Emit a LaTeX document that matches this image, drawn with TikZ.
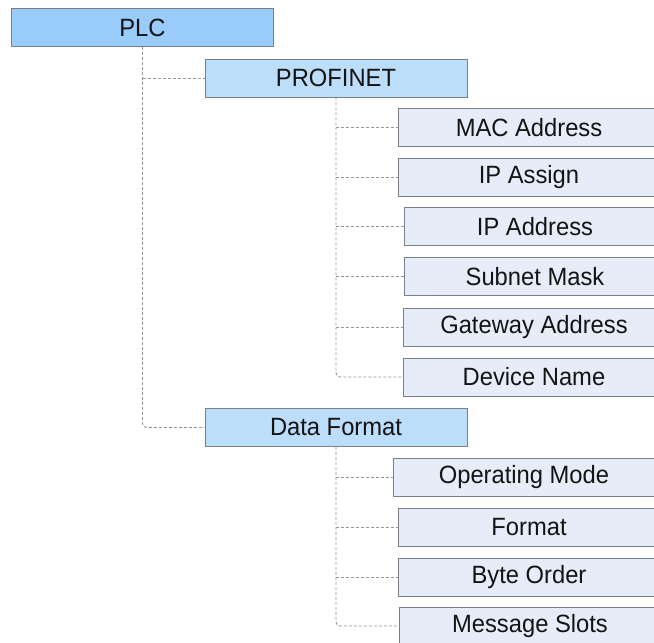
\documentclass[tikz,border=0pt]{standalone}
\usepackage{fontspec}
\setmainfont{Liberation Sans}
\newfontfamily\boxfont[FakeStretch=0.95]{Liberation Sans}
\definecolor{plcblue}{RGB}{153,204,250}
\definecolor{midblue}{RGB}{189,222,250}
\definecolor{leafblue}{RGB}{230,237,249}
\definecolor{boxline}{RGB}{120,128,138}
\definecolor{connline}{RGB}{150,150,150}
\definecolor{txt}{RGB}{20,20,20}
\begin{document}
\begin{tikzpicture}[x=1pt,y=-1pt,
  box/.style={draw=boxline, line width=0.9pt, minimum width=262pt, minimum height=38pt,
    inner sep=0pt, font=\boxfont\fontsize{25}{27}\selectfont, text=txt},
  topbox/.style={box, fill=plcblue},
  midbox/.style={box, fill=midblue},
  leafbox/.style={box, fill=leafblue},
  conn/.style={draw=connline, line width=0.9pt, dash pattern=on 3pt off 2pt, rounded corners=4pt}]
\useasboundingbox (0,0) rectangle (654,643);
\clip (0,0) rectangle (654,643);
\fill[white] (0,0) rectangle (654,643);

\node[topbox] (plc) at (142.5,27.5) {PLC};
\node[midbox] (profinet) at (336,78) {PROFINET};
\node[midbox] (dataformat) at (336,427.5) {Data Format};

\node[leafbox] (mac) at (529,127.5) {MAC Address};
\node[leafbox] (ipassign) at (529,177.5) {IP Assign};
\node[leafbox] (ipaddr) at (535,226.5) {IP Address};
\node[leafbox] (subnet) at (535,276.5) {Subnet Mask};
\node[leafbox] (gateway) at (534,327) {Gateway Address};
\node[leafbox] (device) at (534,377) {Device Name};

\node[leafbox] (opmode) at (524,477.5) {Operating Mode};
\node[leafbox] (format) at (529,527) {Format};
\node[leafbox] (byteorder) at (529,577) {Byte Order};
\node[leafbox] (msgslots) at (530,626) {Message Slots};

% PLC connectors
\draw[conn] (plc.south) -- (plc.south |- dataformat.west) -- (dataformat.west);
\draw[conn] (plc.south |- profinet.west) -- (profinet.west);

% PROFINET connectors
\draw[conn] (profinet.south) -- (profinet.south |- device.west) -- (device.west);
\foreach \n in {mac,ipassign,ipaddr,subnet,gateway}
  \draw[conn] (profinet.south |- \n.west) -- (\n.west);

% Data Format connectors
\draw[conn] (dataformat.south) -- (dataformat.south |- msgslots.west) -- (msgslots.west);
\foreach \n in {opmode,format,byteorder}
  \draw[conn] (dataformat.south |- \n.west) -- (\n.west);
\end{tikzpicture}
\end{document}
